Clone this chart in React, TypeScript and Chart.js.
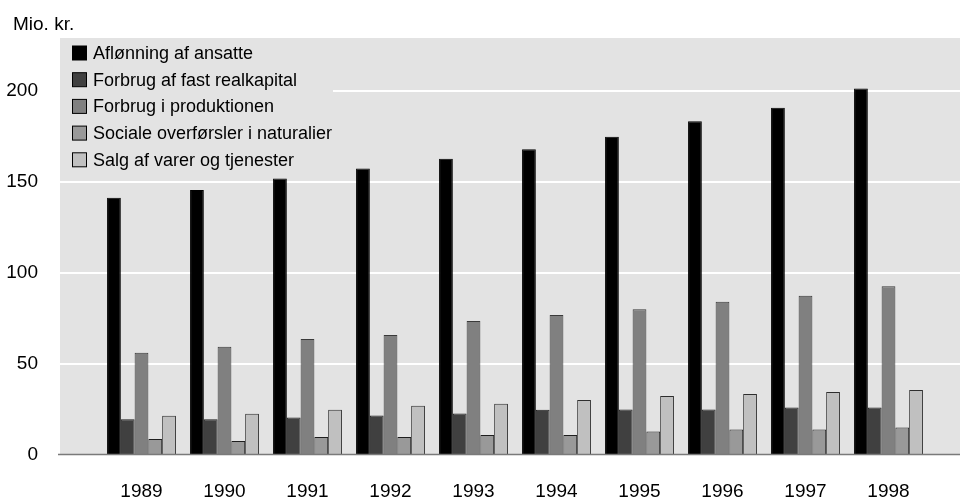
import React, { useEffect, useRef } from 'react';
import { Chart, registerables } from 'chart.js';

Chart.register(...registerables);

const years = ['1989', '1990', '1991', '1992', '1993', '1994', '1995', '1996', '1997', '1998'];
const seriesNames = [
  'Aflønning af ansatte',
  'Forbrug af fast realkapital',
  'Forbrug i produktionen',
  'Sociale overførsler i naturalier',
  'Salg af varer og tjenester',
];
const aflonning = [141.2, 145.4, 151.8, 157.3, 162.6, 167.9, 174.7, 183.2, 190.7, 201.3];
const forbrugFast = [19.4, 19.4, 20.4, 21.5, 22.6, 24.6, 24.8, 24.8, 25.9, 25.9];
const forbrugProd = [56.0, 59.3, 63.5, 65.7, 73.4, 76.7, 79.8, 84.0, 87.3, 92.5];
const sociale = [8.5, 7.4, 9.6, 9.6, 10.7, 10.7, 12.7, 13.8, 13.8, 14.9];
const salg = [21.3, 22.4, 24.6, 26.8, 27.9, 30.0, 32.2, 33.3, 34.4, 35.5];
const unitLabel = 'Mio. kr.';

const fills = ['#000000', '#404040', '#808080', '#999999', '#c0c0c0'];
const borders = ['#000000', '#1e1e1e', '#3a3a3a', '#1e1e1e', '#2e2e2e'];
const FONT = '"Liberation Sans", Arial, sans-serif';
const BG = '#e3e3e3';

const decorPlugin = {
  id: 'decor',
  beforeDatasetsDraw(chart: any) {
    const { ctx, chartArea, scales } = chart;
    const y = scales.y;
    ctx.save();
    ctx.fillStyle = BG;
    ctx.fillRect(60, chartArea.top, 900, chartArea.bottom - chartArea.top);
    ctx.strokeStyle = '#ffffff';
    ctx.lineWidth = 2;
    y.ticks.forEach((t: any) => {
      if (t.value <= 0) return;
      const py = Math.round(y.getPixelForValue(t.value));
      ctx.beginPath();
      ctx.moveTo(60, py);
      ctx.lineTo(960, py);
      ctx.stroke();
    });
    ctx.restore();
  },
  afterDatasetsDraw(chart: any) {
    const { ctx, chartArea, scales } = chart;
    const y = scales.y;
    ctx.save();
    // zero line
    const py0 = y.getPixelForValue(0);
    ctx.strokeStyle = '#7a7a7a';
    ctx.lineWidth = 1.5;
    ctx.beginPath();
    ctx.moveTo(58, py0);
    ctx.lineTo(960, py0);
    ctx.stroke();

    // legend
    ctx.fillStyle = BG;
    ctx.fillRect(60, chartArea.top, 273, 137);
    ctx.font = '18px ' + FONT;
    ctx.textBaseline = 'middle';
    chart.data.datasets.forEach((ds: any, i: number) => {
      const cy = 53 + i * 26.7;
      ctx.fillStyle = ds.backgroundColor;
      ctx.fillRect(72.5, cy - 7, 14, 14);
      ctx.strokeStyle = '#000';
      ctx.lineWidth = 1;
      ctx.strokeRect(72.5, cy - 7, 14, 14);
      ctx.fillStyle = '#000';
      ctx.fillText(ds.label, 93, cy + 1);
    });

    // unit label
    ctx.font = '19px ' + FONT;
    ctx.textBaseline = 'alphabetic';
    ctx.fillText(unitLabel, 13, 30);
    ctx.restore();
  },
};

export default function App() {
  const ref = useRef<HTMLCanvasElement | null>(null);
  useEffect(() => {
    if (!ref.current) return;
    const values = [aflonning, forbrugFast, forbrugProd, sociale, salg];
    const chart = new Chart(ref.current, {
      type: 'bar',
      data: {
        labels: years,
        datasets: values.map((v, i) => ({
          label: seriesNames[i],
          data: v,
          backgroundColor: fills[i],
          borderColor: borders[i],
          borderWidth: 1,
          barPercentage: 1,
          categoryPercentage: 0.83,
        })),
      },
      options: {
        responsive: false,
        animation: false,
        layout: { padding: { left: 0, right: 30, top: 38, bottom: 0 } },
        plugins: {
          legend: { display: false },
          tooltip: { enabled: false },
          title: { display: false },
        },
        scales: {
          x: {
            grid: { display: true, drawTicks: true, tickLength: 24, color: 'rgba(0,0,0,0)', drawOnChartArea: false },
            border: { display: false },
            ticks: {
              color: '#000',
              font: { family: FONT, size: 19 },
              padding: 2,
              maxRotation: 0,
            },
            afterFit(scale: any) {
              scale.height = 47.5;
            },
          },
          y: {
            min: 0,
            max: 229,
            grid: { display: true, drawTicks: true, tickLength: 60, color: 'rgba(0,0,0,0)', drawOnChartArea: false },
            border: { display: false },
            ticks: {
              stepSize: 50,
              includeBounds: false,
              color: '#000',
              font: { family: FONT, size: 19 },
              padding: 2,
            },
            afterFit(scale: any) {
              scale.width = 100;
            },
          },
        },
      },
      plugins: [decorPlugin],
    });
    return () => chart.destroy();
  }, []);
  return (
    <div style={{ position: 'fixed', left: 0, top: 0, width: 960, height: 502, background: '#fff' }}>
      <canvas ref={ref} width={960} height={502} style={{ width: 960, height: 502, display: 'block' }} />
    </div>
  );
}
